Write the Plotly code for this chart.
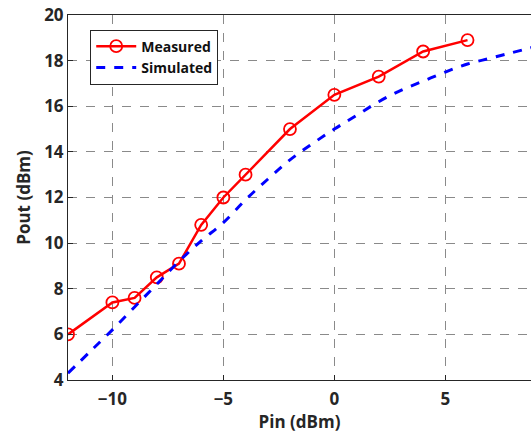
import plotly.graph_objects as go

pin_meas = [-12, -10, -9, -8, -7, -6, -5, -4, -2, 0, 2, 4, 6]
pout_meas = [6.0, 7.4, 7.6, 8.5, 9.1, 10.8, 12.0, 13.0, 15.0, 16.5, 17.3, 18.4, 18.9]

pin_sim = [-12, -11, -10, -9, -8, -7, -6, -5, -4, -3, -2, -1, 0, 1, 2, 3, 4, 5, 6, 7, 8, 9]
pout_sim = [4.3, 5.25, 6.2, 7.2, 8.2, 9.2, 10.1, 10.9, 11.9, 12.8, 13.65, 14.35, 15.0,
            15.6, 16.2, 16.7, 17.1, 17.5, 17.85, 18.1, 18.35, 18.6]

x_ticks = [-10, -5, 0, 5]
y_ticks = [4, 6, 8, 10, 12, 14, 16, 18, 20]

FONT = "Open Sans"
fig = go.Figure()
fig.add_trace(go.Scatter(
    x=pin_meas, y=pout_meas, name="Measured", mode="lines+markers",
    line=dict(color="#ff0000", width=2.5),
    marker=dict(symbol="circle-open", size=12, color="#ff0000", line=dict(width=1.8)),
))
fig.add_trace(go.Scatter(
    x=pin_sim, y=pout_sim, name="Simulated", mode="lines",
    line=dict(color="#0000ff", width=3, dash="dash", shape="spline"),
))

axis_common = dict(
    showgrid=True, gridcolor="#8a8a8a", griddash="dash", gridwidth=1,
    zeroline=False, showline=True, linecolor="#262626", linewidth=1,
    ticks="inside", ticklen=5, tickcolor="#262626",
    tickfont=dict(family=FONT, size=17, color="#262626", weight="bold"),
)
title_font = dict(family=FONT, size=17, color="#262626", weight="bold")
fig.update_xaxes(range=[-12, 8.86], tickvals=x_ticks, mirror=True, ticklabelstandoff=4,
                 title=dict(text="Pin (dBm)", font=title_font, standoff=6),
                 **axis_common)
fig.update_yaxes(range=[4, 20], tickvals=y_ticks, mirror=False,
                 title=dict(text="Pout (dBm)", font=title_font, standoff=9),
                 **axis_common)
fig.update_layout(
    width=531, height=433,
    margin=dict(l=68, r=0, t=15, b=53),
    paper_bgcolor="white", plot_bgcolor="white",
    font=dict(family=FONT, color="#262626"),
    legend=dict(x=0.048, y=0.96, xanchor="left", yanchor="top",
                bgcolor="white", bordercolor="#262626", borderwidth=1,
                font=dict(family=FONT, size=14, color="#111111", weight="bold"),
                tracegroupgap=0, itemwidth=40),
    showlegend=True,
)
fig.write_html("out.html")
